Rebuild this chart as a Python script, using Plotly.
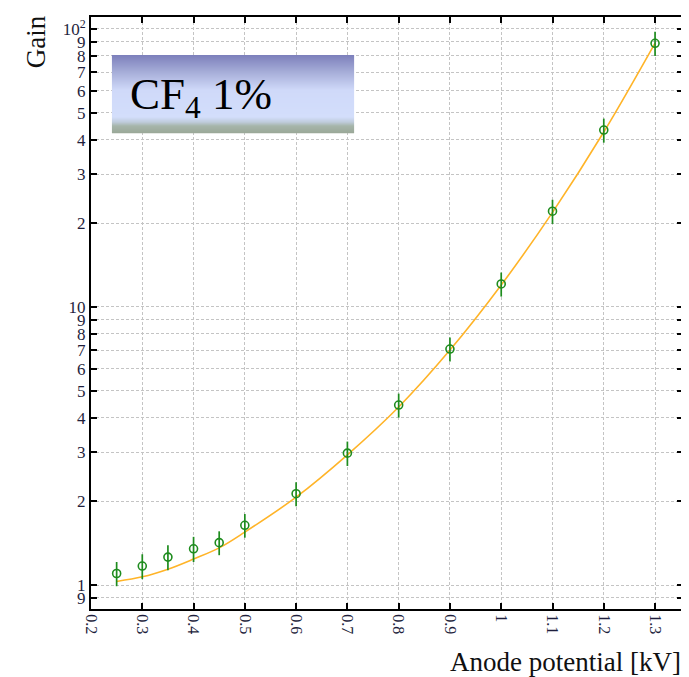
import plotly.graph_objects as go

# ---- data ----
anode_kv = [0.25, 0.30, 0.35, 0.40, 0.45, 0.50, 0.60, 0.70, 0.80, 0.90, 1.00, 1.10, 1.20, 1.30]
gain = [1.10, 1.17, 1.26, 1.35, 1.42, 1.64, 2.13, 2.98, 4.44, 7.06, 12.1, 22.1, 43.3, 88.8]
gain_err = [0.11, 0.12, 0.13, 0.14, 0.14, 0.16, 0.21, 0.30, 0.44, 0.70, 1.2, 2.2, 4.3, 8.9]
fit_kv = [0.25, 0.30, 0.35, 0.40, 0.45, 0.50, 0.60, 0.70, 0.80, 0.90, 1.00, 1.10, 1.20, 1.30]
fit_gain = [1.03, 1.07, 1.14, 1.24, 1.36, 1.55, 2.07, 2.94, 4.37, 7.0, 12.0, 21.9, 42.6, 89.0]
x_ticks = [0.2, 0.3, 0.4, 0.5, 0.6, 0.7, 0.8, 0.9, 1.0, 1.1, 1.2, 1.3]
x_tick_labels = ["0.2", "0.3", "0.4", "0.5", "0.6", "0.7", "0.8", "0.9", "1", "1.1", "1.2", "1.3"]
y_ticks = [0.9, 1, 2, 3, 4, 5, 6, 7, 8, 9, 10, 20, 30, 40, 50, 60, 70, 80, 90, 100]
y_tick_labels = ["9", "1", "2", "3", "4", "5", "6", "7", "8", "9",
                 "10", "2", "3", "4", "5", "6", "7", "8", "9", "10<sup>2</sup>"]

SERIF = "Liberation Serif"
TICKCOL = "#1e1e3c"

fig = go.Figure()
fig.add_trace(go.Scatter(
    x=fit_kv, y=fit_gain, mode="lines", line=dict(color="#ffb428", width=1.6, shape="spline"),
    hoverinfo="skip", showlegend=False))
fig.add_trace(go.Scatter(
    x=anode_kv, y=gain, mode="markers",
    marker=dict(symbol="circle-open", size=8, color="#1e8c1e", line=dict(width=1.6, color="#1e8c1e")),
    error_y=dict(type="data", array=gain_err, color="#1e8c1e", thickness=1.7, width=0),
    showlegend=False))

grid = dict(showgrid=True, gridcolor="#c4c4c4", griddash="3px,2px", gridwidth=1)
fig.update_xaxes(range=[0.2, 1.3545], tickvals=x_ticks, ticktext=x_tick_labels, tickangle=90,
                 ticks="inside", ticklen=6, tickwidth=1.5, tickcolor="black",
                 showline=True, linecolor="black", linewidth=2, mirror="ticks",
                 tickfont=dict(family=SERIF, size=16, color=TICKCOL), zeroline=False, **grid)
fig.update_yaxes(type="log", range=[-0.0863, 2.043], tickvals=y_ticks, ticktext=y_tick_labels,
                 ticks="inside", ticklen=6, tickwidth=1.5, tickcolor="black",
                 showline=True, linecolor="black", linewidth=2, mirror="ticks",
                 tickfont=dict(family=SERIF, size=17, color=TICKCOL), zeroline=False, **grid)

# page is offset by 8px body margin; figure sized to compensate
OFF = 8
W, H = 689 - OFF, 677 - OFF
ml, mr, mt, mb = 91 - OFF, 4, 17 - OFF, 68
PW, PH = W - ml - mr, H - mt - mb
def bx(x): return (x - OFF - ml) / PW      # screen px -> paper x
def by(y): return 1 - (y - OFF - mt) / PH  # screen px -> paper y

# smooth vertical gradient for the label box
box_x0, box_x1, box_y0, box_y1 = 112, 355, 55, 133
stops = [(55, (0x7c, 0x7f, 0xbb)), (72, (0xa6, 0xad, 0xd8)), (90, (0xcf, 0xd9, 0xf9)),
         (117, (0xd3, 0xde, 0xfb)), (122, (0xbf, 0xcc, 0xdc)), (126, (0xa6, 0xb5, 0xaa)),
         (133, (0x9a, 0xa8, 0x98))]
def col_at(y):
    for (ya, ca), (yb, cb) in zip(stops[:-1], stops[1:]):
        if ya <= y <= yb:
            t = (y - ya) / (yb - ya)
            return "rgb(%d,%d,%d)" % tuple(round(a + (b - a) * t) for a, b in zip(ca, cb))
    return "rgb(%d,%d,%d)" % stops[-1][1]
for yy in range(box_y0, box_y1):
    fig.add_shape(type="rect", xref="paper", yref="paper", x0=bx(box_x0), x1=bx(box_x1),
                  y0=by(yy + 1.3), y1=by(yy), fillcolor=col_at(yy + 0.5), line=dict(width=0), layer="above")

fig.add_annotation(xref="paper", yref="paper", x=bx(128), y=by(97), xanchor="left", yanchor="middle",
                   text="CF<sub>4</sub> 1%", showarrow=False,
                   font=dict(family=SERIF, size=45, color="black"))

fig.add_annotation(xref="paper", yref="paper", x=bx(36), y=by(42), text="Gain", textangle=-90,
                   showarrow=False, xanchor="center", yanchor="middle",
                   font=dict(family=SERIF, size=27, color="#101010"))
fig.add_annotation(xref="paper", yref="paper", x=bx(685), y=by(662), text="Anode potential [kV]",
                   showarrow=False, xanchor="right", yanchor="middle",
                   font=dict(family=SERIF, size=27, color="#101010"))

fig.update_layout(width=W, height=H, margin=dict(l=ml, r=mr, t=mt, b=mb),
                  paper_bgcolor="white", plot_bgcolor="white", showlegend=False)
fig.write_html("out.html")
